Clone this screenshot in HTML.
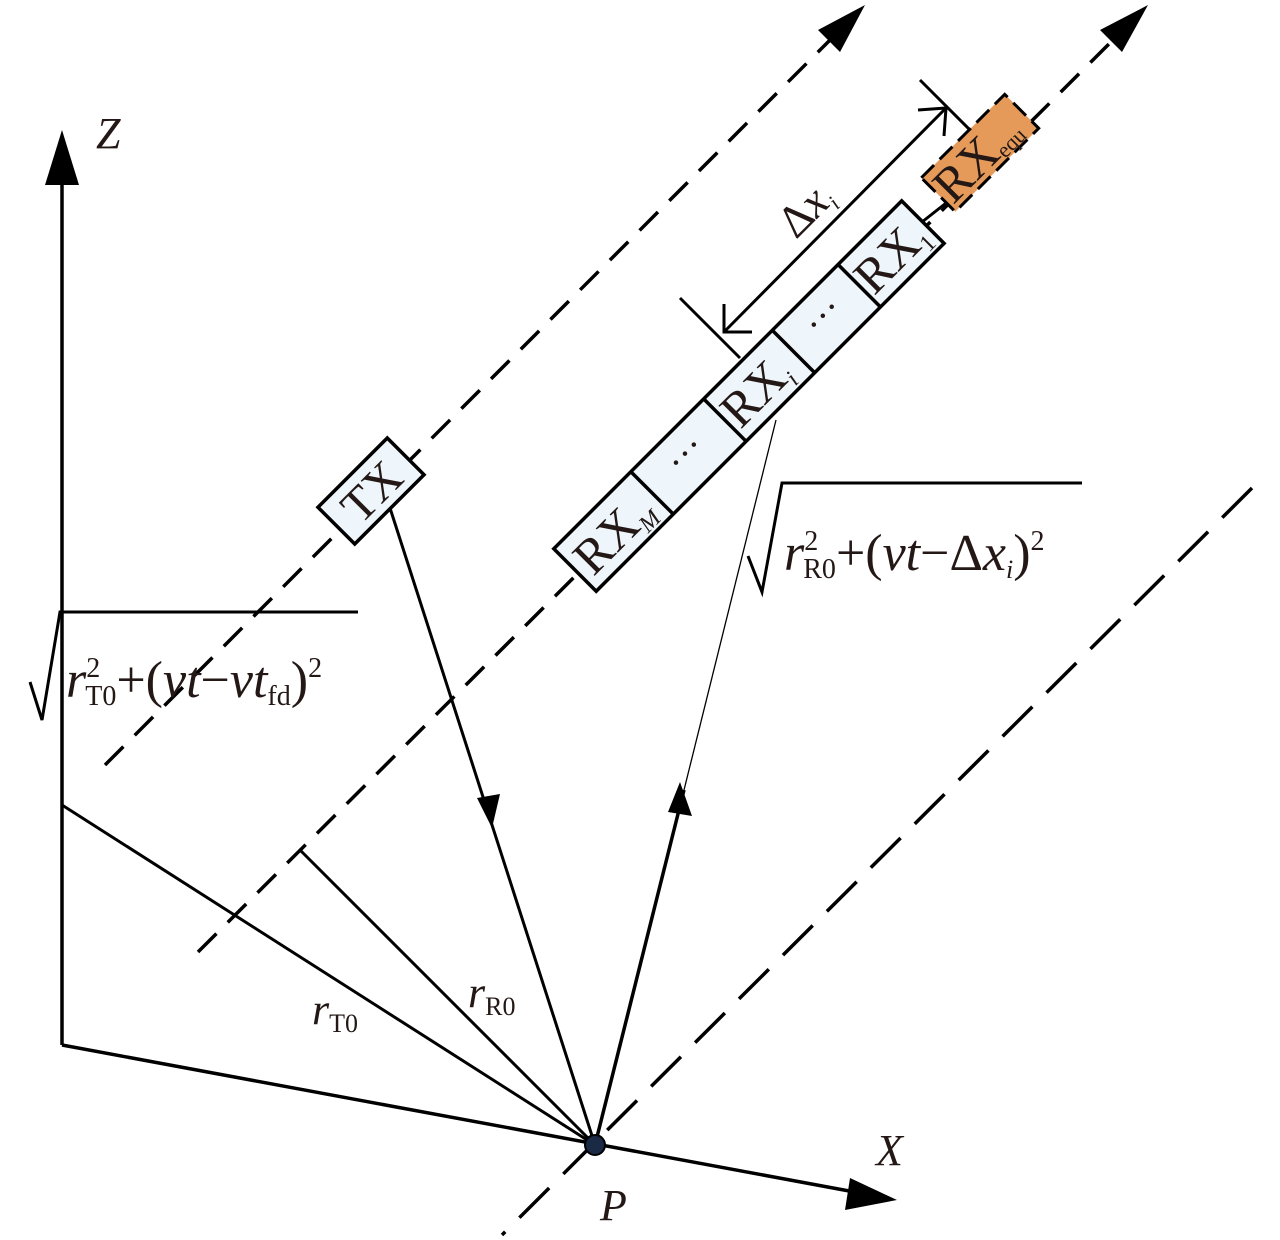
<!DOCTYPE html>
<html><head><style>body{margin:0;background:#fff}svg{display:block}
text{font-family:"Liberation Serif",serif;fill:#231815}</style></head><body>
<svg width="1280" height="1240" viewBox="0 0 1280 1240" xmlns="http://www.w3.org/2000/svg">
<g stroke="#000" fill="none" stroke-width="3.5">
<line x1="105" y1="765" x2="838" y2="32" stroke-dasharray="26,16"/>
<line x1="198" y1="952" x2="1120" y2="33" stroke-dasharray="26,16"/>
<line x1="1252" y1="488" x2="502" y2="1235" stroke-dasharray="42,20"/>
<line x1="62" y1="1045" x2="62" y2="175"/>
<line x1="62" y1="1045" x2="860" y2="1193"/>
<line x1="62" y1="805" x2="595" y2="1145" stroke-width="3"/>
<line x1="300" y1="850" x2="595" y2="1145" stroke-width="3"/>
<line x1="390" y1="508" x2="595" y2="1145" stroke-width="3"/>
<line x1="595" y1="1145" x2="684" y2="790" stroke-width="3.5"/>
<line x1="684" y1="790" x2="776" y2="420" stroke-width="1.3"/>
<polyline points="30,682 42,720 60,612 358,612" stroke-width="3"/>
<polyline points="748,556 762,592 782,483 1082,483" stroke-width="3"/>
<line x1="920" y1="80" x2="972" y2="132" stroke-width="3"/>
<line x1="680" y1="298" x2="740" y2="358" stroke-width="3"/>
<line x1="946" y1="108" x2="724" y2="332" stroke-width="3"/>
<polyline points="918,110 946,108 944,136" stroke-width="3"/>
<polyline points="724,304 724,332 752,332" stroke-width="3"/>
<line x1="922" y1="222" x2="955" y2="196" stroke-width="3"/>
</g>
<g fill="#000">
<polygon points="62,130 45,185 79,185"/>
<polygon points="897,1200 850,1178 845,1210"/>
<polygon points="865,5 818,30 840,52"/>
<polygon points="1148,5 1100,30 1122,52"/>
<polygon points="492,828 477,798 500,794"/>
<polygon points="680,782 668,812 692,816"/>
</g>
<circle cx="595" cy="1145" r="10" fill="#1a2a44" stroke="#000" stroke-width="2"/>
<g transform="translate(371,491) rotate(-45)">
<rect x="-49" y="-26" width="98" height="52" fill="#eef5fb" stroke="#000" stroke-width="3.5"/>
<text x="0" y="17" font-size="48" text-anchor="middle">TX</text>
</g>
<g transform="translate(575,570) rotate(-45)" stroke="#000" stroke-width="3.5">
<rect x="0" y="-30" width="492" height="60" fill="#eef5fb"/>
<line x1="109" y1="-30" x2="109" y2="30"/>
<line x1="212" y1="-30" x2="212" y2="30"/>
<line x1="309" y1="-30" x2="309" y2="30"/>
<line x1="402" y1="-30" x2="402" y2="30"/>
<g stroke="none">
<text x="8" y="18" font-size="50">RX<tspan font-size="24" font-style="italic" dy="8">M</tspan></text>
<text x="160" y="8" font-size="38" text-anchor="middle">···</text>
<text x="216" y="18" font-size="50">RX<tspan font-size="24" font-style="italic" dy="8">i</tspan></text>
<text x="355" y="8" font-size="38" text-anchor="middle">···</text>
<text x="405" y="18" font-size="50">RX<tspan font-size="24" dy="8">1</tspan></text>
</g>
</g>
<g transform="translate(980,153) rotate(-45)">
<rect x="-59" y="-24" width="118" height="48" fill="#e59a5a" stroke="#000" stroke-width="3" stroke-dasharray="18,8"/>
<text x="-56" y="18" font-size="50">RX<tspan font-size="22" dy="4">equ</tspan></text>
</g>
<text x="0" y="0" font-size="46" transform="translate(796,240) rotate(-45)">Δ<tspan font-style="italic">x</tspan><tspan font-size="22" font-style="italic" dy="8">i</tspan></text>
<text x="96" y="148" font-size="44" font-style="italic">Z</text>
<text x="876" y="1165" font-size="44" font-style="italic">X</text>
<text x="600" y="1220" font-size="44" font-style="italic">P</text>
<text x="312" y="1024" font-size="44" font-style="italic">r<tspan font-size="26" font-style="normal" dy="8">T0</tspan></text>
<text x="468" y="1007" font-size="44" font-style="italic">r<tspan font-size="26" font-style="normal" dy="8">R0</tspan></text>
<text x="66" y="697" font-size="52"><tspan font-style="italic">r</tspan><tspan font-size="28" dy="-20">2</tspan><tspan font-size="28" dx="-15" dy="28">T0</tspan><tspan dy="-8">+(</tspan><tspan font-style="italic">vt</tspan>−<tspan font-style="italic">vt</tspan><tspan font-size="28" dy="8">fd</tspan><tspan dy="-8">)</tspan><tspan font-size="28" dy="-20">2</tspan></text>
<text x="784" y="570" font-size="52"><tspan font-style="italic">r</tspan><tspan font-size="28" dy="-20">2</tspan><tspan font-size="28" dx="-15" dy="28">R0</tspan><tspan dy="-8">+(</tspan><tspan font-style="italic">vt</tspan>−Δ<tspan font-style="italic">x</tspan><tspan font-size="26" font-style="italic" dy="8">i</tspan><tspan dy="-8">)</tspan><tspan font-size="28" dy="-20">2</tspan></text>
</svg>
</body></html>
